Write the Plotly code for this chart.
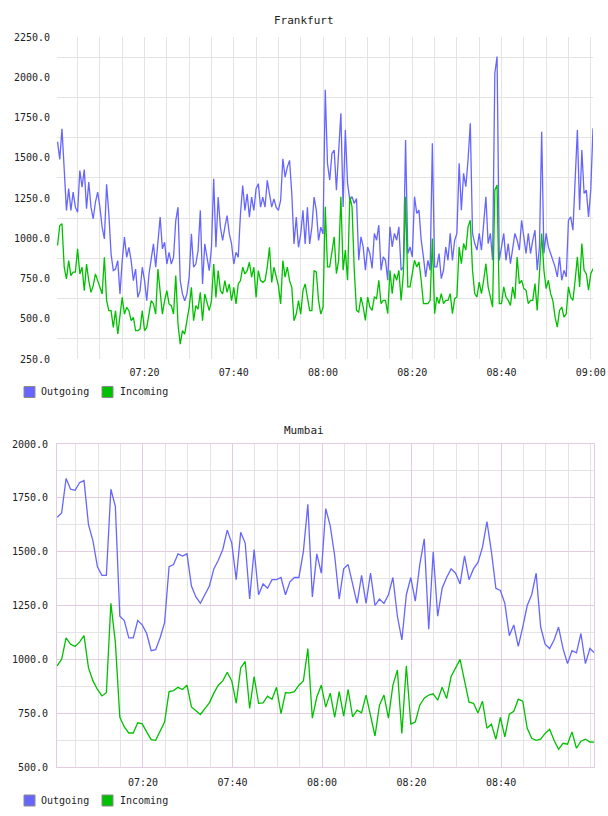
import pandas as pd
import plotly.graph_objects as go

# ---------------- data ----------------
fra_start = "2024-01-01 07:00:30"
fra_step_s = 30
fra_out = [1600,1490,1680,1380,1173,1308,1173,1287,1193,1162,1421,1318,1426,1183,1349,1193,1121,1225,1287,1193,
           1069,996,1335,1152,903,799,809,861,654,861,1007,882,944,861,737,809,633,675,820,737,
           612,778,882,965,820,986,1131,934,975,840,913,840,882,1110,1193,737,654,612,654,758,
           1027,820,840,924,1173,716,965,882,799,944,1370,944,1256,1069,986,1069,1141,1027,965,840,
           913,882,1152,1328,1173,1276,1131,1256,1173,1308,1339,1193,1256,1193,1360,1276,1193,1245,1193,1173,
           1235,1494,1380,1442,1484,1276,965,1131,944,1027,1173,965,1193,965,1069,1256,1173,986,1069,1027,
           1922,1465,1361,1527,1548,1299,1548,1776,1195,1673,1341,1237,1258,1216,1247,863,1009,946,801,946,
           905,812,1030,988,1081,801,884,863,739,1071,946,1030,988,1071,801,822,1610,905,946,884,
           1258,1154,1175,988,884,760,863,801,1590,822,822,905,749,801,946,863,1030,863,988,1030,
           1465,1174,1403,1320,1486,1714,1030,967,926,1030,926,1102,1258,967,1030,863,2025,2129,863,946,
           1030,863,967,842,926,1030,988,926,1112,988,905,1030,905,988,1050,801,946,1662,905,1030,
           946,905,863,822,760,884,739,801,760,1112,1133,1050,1361,1673,1175,1548,1278,1299,1133,1299,
           1683]
fra_in = [955,1079,1090,820,747,861,768,789,789,934,778,820,675,840,737,664,706,778,737,695,
          654,882,612,550,550,446,550,405,529,633,529,571,550,488,509,426,426,436,550,426,
          446,529,612,592,529,809,675,529,612,675,592,581,529,768,467,342,426,405,488,571,
          695,488,581,560,664,488,654,592,550,612,840,633,799,675,654,737,664,716,612,695,
          592,716,737,820,778,799,851,758,820,633,799,737,726,737,820,944,726,820,758,706,
          592,861,758,820,737,695,488,529,612,529,675,716,633,550,550,799,789,612,529,571,
          1195,822,822,905,1009,780,863,1258,801,926,739,1258,1195,801,552,542,635,573,490,635,
          573,552,635,625,739,594,614,614,531,801,656,780,739,801,614,780,1258,698,698,780,
          863,822,853,739,594,594,594,614,998,531,635,594,656,594,614,614,656,531,625,635,
          946,842,967,926,1071,1112,801,656,635,728,656,739,842,698,635,573,1299,1330,594,594,
          698,635,614,583,698,625,884,718,739,687,677,594,614,614,718,552,780,1030,801,687,
          739,656,614,510,448,552,573,510,531,698,635,614,739,884,698,967,801,780,677,780,
          811]

mum_start = "2024-01-01 07:00:50"
mum_step_s = 60
mum_out = [1660,1680,1840,1790,1785,1820,1830,1625,1550,1430,1390,1390,1790,1710,1200,1180,1100,1100,1180,1160,
           1120,1040,1045,1100,1170,1430,1440,1490,1480,1490,1340,1290,1260,1300,1340,1420,1460,1510,1600,1540,
           1370,1590,1540,1280,1510,1300,1350,1330,1370,1370,1380,1300,1360,1380,1380,1500,1720,1290,1490,1400,
           1700,1620,1480,1280,1420,1440,1350,1260,1390,1260,1400,1250,1280,1260,1300,1380,1200,1090,1300,1380,
           1270,1440,1560,1140,1500,1200,1330,1380,1420,1400,1350,1480,1370,1420,1450,1520,1640,1500,1330,1320,
           1260,1110,1160,1060,1150,1250,1300,1400,1150,1070,1050,1090,1150,1050,980,1040,1030,1120,980,1050,
           1030]
mum_in = [970,1000,1100,1070,1060,1080,1110,960,900,860,830,845,1260,1080,731,686,658,658,705,700,
          663,627,624,663,709,850,855,870,860,880,779,761,744,771,798,843,880,900,940,900,
          796,960,990,772,920,796,798,829,815,870,748,845,844,850,880,900,1050,727,825,880,
          778,843,731,850,736,860,733,764,752,834,733,644,787,834,727,880,950,656,970,700,
          709,787,820,834,840,810,870,818,920,960,1000,900,801,796,751,806,680,699,629,731,
          640,745,759,815,806,680,633,624,629,656,675,624,582,610,606,663,587,620,629,616,
          615]

fra_yticks = [250, 500, 750, 1000, 1250, 1500, 1750, 2000, 2250]
fra_ygrid = [375, 625, 875, 1125, 1375, 1625, 1875, 2125]
mum_yticks = [500, 750, 1000, 1250, 1500, 1750, 2000]
mum_ygrid = [625, 875, 1125, 1375, 1625, 1875]
x_ticks = ["07:20", "07:40", "08:00", "08:20", "08:40", "09:00"]
series_names = ["Outgoing", "Incoming"]

# ---------------- styling ----------------
BLUE = "#6666ff"
GREEN = "#00c000"
GRID = "#e4e4e4"
MAJ = "#e2cce2"
FONT = "DejaVu Sans Mono"
W, H = 608, 816

fra_t = pd.Timestamp(fra_start) + pd.to_timedelta([i * fra_step_s for i in range(len(fra_out))], unit="s")
mum_t = pd.Timestamp(mum_start) + pd.to_timedelta([i * mum_step_s for i in range(len(mum_out))], unit="s")
xt = [pd.Timestamp("2024-01-01 " + s) for s in x_ticks]

fig = go.Figure()
for ys, col, nm in [(fra_out, BLUE, series_names[0]), (fra_in, GREEN, series_names[1])]:
    fig.add_trace(go.Scatter(x=fra_t, y=ys, mode="lines", name=nm, line=dict(color=col, width=1.3),
                             showlegend=False, xaxis="x", yaxis="y"))
for ys, col, nm in [(mum_out, BLUE, series_names[0]), (mum_in, GREEN, series_names[1])]:
    fig.add_trace(go.Scatter(x=mum_t, y=ys, mode="lines", name=nm, line=dict(color=col, width=1.3),
                             showlegend=False, xaxis="x2", yaxis="y2"))


def py(v):
    return (H - v) / H


def px(v):
    return v / W


# legends (swatch + label) under each chart
shapes, annotations = [], []
for ly in (392, 800.5):
    for (sx, tx, col, nm) in [(24, 39, BLUE, series_names[0]), (102, 117.5, GREEN, series_names[1])]:
        shapes.append(dict(type="rect", xref="paper", yref="paper",
                           x0=px(sx), x1=px(sx + 11), y0=py(ly + 5.5), y1=py(ly - 5.5),
                           fillcolor=col, line=dict(color="#8a8a8a", width=1)))
        annotations.append(dict(text=nm, x=px(tx), y=py(ly), xref="paper", yref="paper", showarrow=False,
                                xanchor="left", yanchor="middle",
                                font=dict(family=FONT, size=10, color="#222")))
annotations += [
    dict(text="Frankfurt", x=0.5, y=py(20), xref="paper", yref="paper", showarrow=False,
         font=dict(family=FONT, size=11, color="#222"), xanchor="center", yanchor="middle"),
    dict(text="Mumbai", x=0.5, y=py(430), xref="paper", yref="paper", showarrow=False,
         font=dict(family=FONT, size=11, color="#222"), xanchor="center", yanchor="middle"),
]

fra_range = [pd.Timestamp("2024-01-01 07:00:23"), pd.Timestamp("2024-01-01 09:00:30")]
mum_range = [pd.Timestamp("2024-01-01 07:00:48"), pd.Timestamp("2024-01-01 09:00:45")]

tickfont = dict(family=FONT, size=10, color="#222")
fig.update_layout(
    width=W, height=H, margin=dict(l=0, r=0, t=0, b=0, autoexpand=False),
    paper_bgcolor="white", plot_bgcolor="white", showlegend=False,
    font=dict(family=FONT, size=10, color="#222"),
    xaxis=dict(domain=[px(57), px(593)], range=fra_range, tickvals=xt, ticktext=x_ticks,
               showgrid=True, gridcolor=GRID, gridwidth=1, zeroline=False, showline=False,
               ticks="", tickfont=tickfont, ticklabelstandoff=6, automargin=False,
               minor=dict(dtick=5 * 60 * 1000, tick0="2024-01-01 07:00:00", showgrid=True, gridcolor=GRID),
               anchor="y"),
    yaxis=dict(domain=[py(359), py(37)], range=[250, 2250], tickvals=fra_yticks,
               ticktext=[f"{v:.1f}" for v in fra_yticks], showgrid=False, zeroline=False,
               showline=False, ticks="", tickfont=tickfont, ticklabelstandoff=6, automargin=False,
               minor=dict(tickvals=fra_ygrid, showgrid=True, gridcolor=GRID), anchor="x"),
    xaxis2=dict(domain=[px(57), px(594)], range=mum_range, tickvals=xt[:-1], ticktext=x_ticks[:-1],
                showgrid=True, gridcolor=MAJ, zeroline=False, showline=True, linecolor=MAJ, mirror=True,
                ticks="", tickfont=tickfont, ticklabelstandoff=6, automargin=False,
                minor=dict(dtick=5 * 60 * 1000, tick0="2024-01-01 07:00:00", showgrid=True, gridcolor=GRID),
                anchor="y2"),
    yaxis2=dict(domain=[py(767), py(444)], range=[500, 2000], tickvals=mum_yticks,
                ticktext=[f"{v:.1f}" for v in mum_yticks], showgrid=True, gridcolor=MAJ, zeroline=False,
                showline=True, linecolor=MAJ, mirror=True, ticks="", tickfont=tickfont, ticklabelstandoff=6,
                automargin=False,
                minor=dict(tickvals=mum_ygrid, showgrid=True, gridcolor=GRID), anchor="x2"),
    shapes=shapes,
    annotations=annotations,
)

fig.write_html("out.html")
